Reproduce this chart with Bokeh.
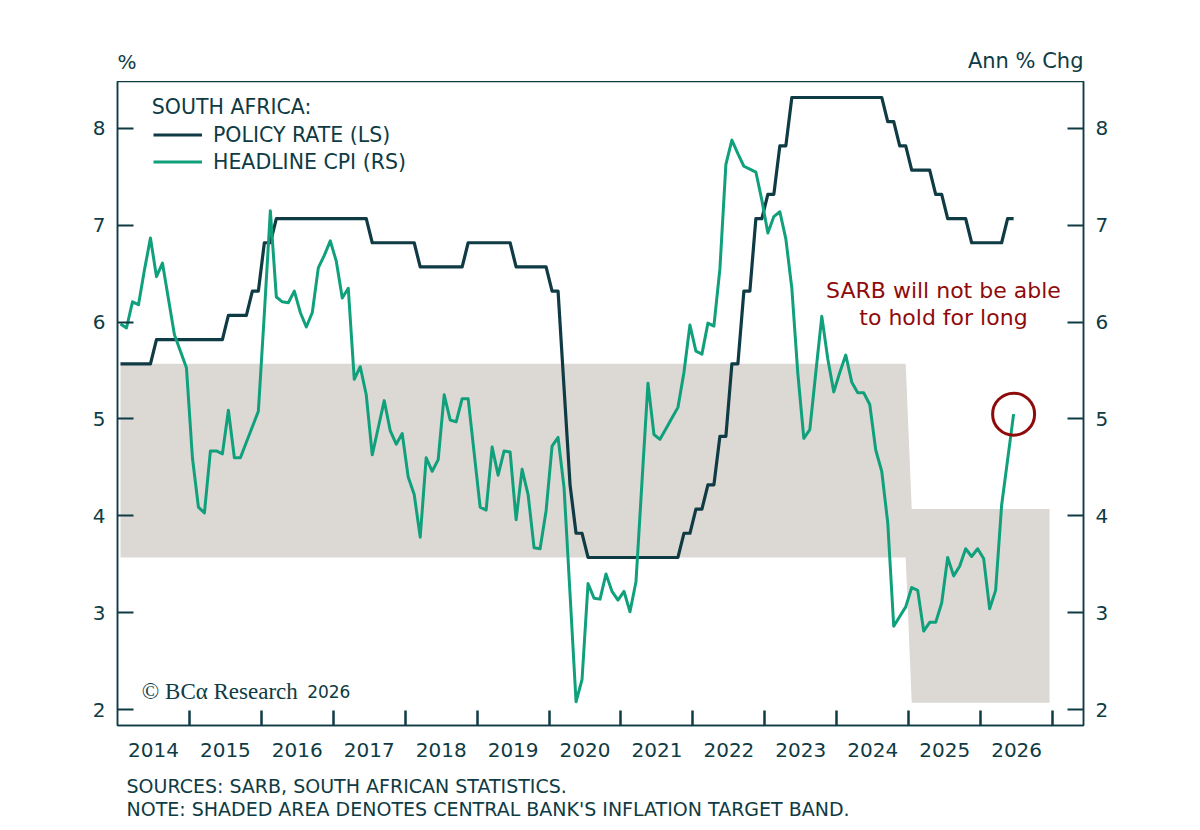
from bokeh.plotting import figure
from bokeh.layouts import column
from bokeh.models import Range1d, FixedTicker, LinearAxis, Legend, LegendItem, Label
from bokeh.core.properties import value
from bokeh.embed import file_html
from bokeh.resources import INLINE

# ---------------- data (monthly, starting Jan 2014) ----------------
start_year = 2014

headline_cpi = [
    5.98, 5.94, 6.21, 6.18, 6.54, 6.87, 6.47, 6.61, 6.24, 5.87, 5.70, 5.53,   # 2014
    4.60, 4.09, 4.03, 4.67, 4.67, 4.64, 5.09, 4.60, 4.60, 4.76, 4.92, 5.08,   # 2015
    6.09, 7.15, 6.26, 6.21, 6.20, 6.32, 6.10, 5.95, 6.10, 6.56, 6.69, 6.84,   # 2016
    6.63, 6.25, 6.35, 5.41, 5.54, 5.25, 4.63, 4.91, 5.19, 4.88, 4.74, 4.85,   # 2017
    4.40, 4.22, 3.78, 4.60, 4.46, 4.58, 5.25, 4.99, 4.97, 5.21, 5.21, 4.65,   # 2018
    4.09, 4.06, 4.71, 4.42, 4.67, 4.66, 3.96, 4.48, 4.22, 3.67, 3.66, 4.05,   # 2019
    4.72, 4.81, 4.29, 3.19, 2.08, 2.31, 3.30, 3.15, 3.14, 3.40, 3.22, 3.13,   # 2020
    3.22, 3.01, 3.32, 4.35, 5.37, 4.84, 4.79, 4.90, 5.01, 5.12, 5.48, 5.97,   # 2021
    5.70, 5.67, 5.99, 5.96, 6.55, 7.63, 7.88, 7.74, 7.61, 7.58, 7.55, 7.26,   # 2022
    6.92, 7.09, 7.14, 6.86, 6.35, 5.47, 4.80, 4.89, 5.48, 6.06, 5.62, 5.28,   # 2023
    5.48, 5.66, 5.38, 5.27, 5.27, 5.15, 4.68, 4.46, 3.93, 2.86, 2.96, 3.06,   # 2024
    3.26, 3.23, 2.81, 2.90, 2.90, 3.10, 3.57, 3.38, 3.48, 3.66, 3.58, 3.66,   # 2025
    3.56, 3.04, 3.23, 4.11, 4.58, 5.05,                                       # 2026
]

# policy rate: level and number of months held
policy_levels = [5.57, 5.82, 6.07, 6.32, 6.82, 7.07, 6.82, 6.57, 6.82, 6.57, 6.32,
                 5.32, 4.32, 3.82, 3.57, 3.82, 4.07, 4.32, 4.82, 5.57, 6.32, 7.07,
                 7.32, 7.82, 8.32, 8.07, 7.82, 7.57, 7.32, 7.07, 6.82, 7.07]
policy_months = [6, 12, 4, 2, 2, 16, 8, 8, 8, 6, 2,
                 1, 1, 2, 16, 2, 2, 2, 2, 2, 2, 2,
                 2, 2, 16, 2, 2, 4, 2, 4, 6, 2]

# inflation target band (month index from Jan 2014, lower, upper)
band_month = [0, 131, 132, 155]
band_low = [3.57, 3.57, 2.07, 2.07]
band_high = [5.57, 5.57, 4.07, 4.07]

year_labels = ["2014", "2015", "2016", "2017", "2018", "2019", "2020",
               "2021", "2022", "2023", "2024", "2025", "2026"]
y_ticks = [2, 3, 4, 5, 6, 7, 8]

# ---------------- build ----------------
def month_pos(i):
    return start_year + (i + 0.5) / 12.0

policy_rate = []
for lvl, n in zip(policy_levels, policy_months):
    policy_rate += [lvl] * n

cpi_x = [month_pos(i) for i in range(len(headline_cpi))]
pol_x = [month_pos(i) for i in range(len(policy_rate))]
band_x = [month_pos(i) for i in band_month]

DARK = "#0f3b44"
GREEN = "#10a07c"
BAND = "#dcd9d5"
RED = "#8f0b0b"
FONT = "DejaVu Sans"
W = 1200
LEFT = 117
FRAME_W = 966
RIGHT = W - LEFT - FRAME_W
TOP_H = 81
FRAME_H = 644
MAIN_BOTTOM = 45
FOOT_H = 55

def strip(height):
    f = figure(frame_width=FRAME_W, frame_height=height,
               min_border_left=LEFT, min_border_right=RIGHT,
               min_border_top=0, min_border_bottom=0,
               x_range=Range1d(LEFT, LEFT + FRAME_W), y_range=Range1d(0, height),
               output_backend="svg", toolbar_location=None,
               x_axis_location=None, y_axis_location=None)
    f.outline_line_color = None
    f.grid.grid_line_color = None
    return f

# ---------- top strip (pixel units) ----------
top = strip(TOP_H)
top.text(x=[LEFT], y=[TOP_H - 61.7], text=["%"], text_font=value(FONT),
         text_font_size="20px", text_color=DARK, text_align="left",
         text_baseline="middle")
top.text(x=[LEFT + FRAME_W], y=[TOP_H - 60.5], text=["Ann % Chg"], text_font=value(FONT),
         text_font_size="21px", text_color=DARK, text_align="right",
         text_baseline="middle")

# ---------- main chart ----------
p = figure(frame_width=FRAME_W, frame_height=FRAME_H,
           min_border_left=LEFT, min_border_right=RIGHT,
           min_border_top=0, min_border_bottom=MAIN_BOTTOM,
           x_range=Range1d(2014.0, 2027.43), y_range=Range1d(1.835, 8.485),
           output_backend="svg", toolbar_location=None,
           x_axis_location="below", y_axis_location="left")
p.background_fill_color = "white"
p.border_fill_color = "white"
p.outline_line_color = DARK
p.outline_line_width = 1.5
p.xgrid.grid_line_color = None
p.ygrid.grid_line_color = None

p.varea(x=band_x, y1=band_low, y2=band_high, fill_color=BAND, fill_alpha=1.0)
r_pol = p.line(pol_x, policy_rate, line_color=DARK, line_width=3.2, line_join="round")
r_cpi = p.line(cpi_x, headline_cpi, line_color=GREEN, line_width=3.0, line_join="round")
p.scatter(x=[cpi_x[-1]], y=[headline_cpi[-1]], marker="circle", size=42,
          fill_color=None, line_color=RED, line_width=3)

def style_y(ax):
    ax.ticker = FixedTicker(ticks=y_ticks)
    ax.axis_line_color = DARK
    ax.axis_line_width = 1.5
    ax.major_tick_line_color = DARK
    ax.major_tick_line_width = 2
    ax.major_tick_in = 16
    ax.major_tick_out = 0
    ax.minor_tick_line_color = None
    ax.major_label_text_font = FONT
    ax.major_label_text_font_size = "20px"
    ax.major_label_text_color = DARK
    ax.major_label_standoff = 12

style_y(p.yaxis[0])
right_ax = LinearAxis()
style_y(right_ax)
p.add_layout(right_ax, "right")

xa = p.xaxis[0]
mids = [int(y) + 0.5 for y in year_labels]
bounds = [int(y) + 1 for y in year_labels]
xa.ticker = FixedTicker(ticks=mids, minor_ticks=bounds)
xa.major_label_overrides = {m: lab for m, lab in zip(mids, year_labels)}
xa.axis_line_color = DARK
xa.axis_line_width = 1.5
xa.major_tick_line_color = None
xa.major_tick_in = 0
xa.major_tick_out = 0
xa.minor_tick_line_color = DARK
xa.minor_tick_line_width = 2.5
xa.minor_tick_in = 15
xa.minor_tick_out = 0
xa.major_label_text_font = FONT
xa.major_label_text_font_size = "20px"
xa.major_label_text_color = DARK
xa.major_label_standoff = 17

legend = Legend(items=[LegendItem(label="POLICY RATE (LS)", renderers=[r_pol]),
                       LegendItem(label="HEADLINE CPI (RS)", renderers=[r_cpi])],
                location=(36, 550), margin=0, padding=0,
                glyph_width=49, glyph_height=27, label_height=27, label_standoff=11,
                spacing=0,
                label_text_font=FONT, label_text_font_size="20.5px",
                label_text_color=DARK,
                background_fill_alpha=0, border_line_alpha=0)
p.add_layout(legend, "center")

def add_label(text, x, y, size, color=DARK, align="left", font=FONT):
    p.add_layout(Label(x=x, y=y, text=text, text_font=font, text_font_size=size,
                       text_color=color, text_align=align, text_baseline="middle"))

add_label("SOUTH AFRICA:", 2014.477, 8.224, "20.5px")
add_label("SARB will not be able", 2025.483, 6.325, "22px", color=RED, align="center")
add_label("to hold for long", 2025.483, 6.049, "22px", color=RED, align="center")
add_label("\u00a9 BC\u03b1 Research", 2014.338, 2.186, "23px", font="Liberation Serif")
add_label("2026", 2016.637, 2.186, "17px")

# ---------- footer strip (pixel units) ----------
foot = strip(FOOT_H)
foot_lines = ["SOURCES: SARB, SOUTH AFRICAN STATISTICS.",
              "NOTE: SHADED AREA DENOTES CENTRAL BANK'S INFLATION TARGET BAND."]
foot.text(x=[126, 126], y=[FOOT_H - 15.3, FOOT_H - 38.3], text=foot_lines,
          text_font=value(FONT), text_font_size="19px", text_color=DARK,
          text_align="left", text_baseline="middle")

layout = column(top, p, foot, spacing=0)
open("out.html", "w").write(file_html(layout, INLINE))
